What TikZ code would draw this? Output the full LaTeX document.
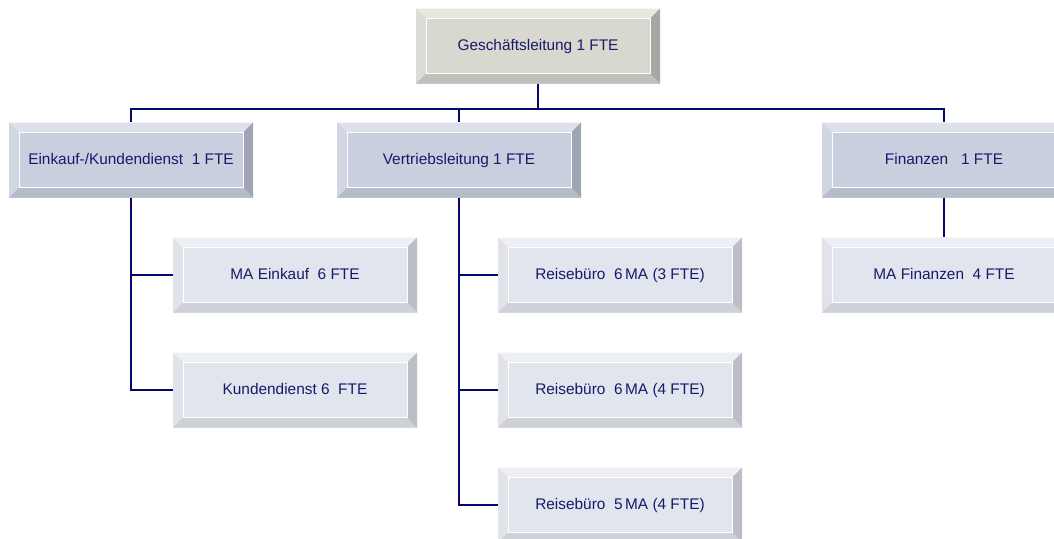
\documentclass[tikz,border=0pt]{standalone}
\usepackage{fontspec}
\setmainfont{Liberation Sans}
\definecolor{linknavy}{RGB}{5,5,110}
\definecolor{textnavy}{RGB}{25,25,105}
% top box
\definecolor{grayface}{RGB}{216,216,208}
\definecolor{graylight}{RGB}{232,232,226}
\definecolor{graydark}{RGB}{168,168,162}
\definecolor{graymid}{RGB}{192,192,186}
% first level
\definecolor{blueface}{RGB}{200,208,224}
\definecolor{bluelight}{RGB}{220,225,236}
\definecolor{bluedark}{RGB}{160,165,180}
\definecolor{bluemid}{RGB}{182,188,202}
% second level
\definecolor{paleface}{RGB}{225,229,238}
\definecolor{palelight}{RGB}{237,239,245}
\definecolor{paledark}{RGB}{188,190,198}
\definecolor{palemid}{RGB}{206,209,216}
\begin{document}
\begin{tikzpicture}[x=1pt, y=-1pt,
  bevel/.style n args={4}{fill=#1, path picture={
    \fill[#2] (path picture bounding box.north west) -- (path picture bounding box.north east)
      -- ([shift={(-10,10)}]path picture bounding box.north east) -- ([shift={(10,10)}]path picture bounding box.north west) -- cycle;
    \fill[#2!95!black] (path picture bounding box.north west) -- ([shift={(10,10)}]path picture bounding box.north west)
      -- ([shift={(10,-10)}]path picture bounding box.south west) -- (path picture bounding box.south west) -- cycle;
    \fill[#3] (path picture bounding box.north east) -- (path picture bounding box.south east)
      -- ([shift={(-10,-10)}]path picture bounding box.south east) -- ([shift={(-10,10)}]path picture bounding box.north east) -- cycle;
    \fill[#4] (path picture bounding box.south west) -- (path picture bounding box.south east)
      -- ([shift={(-10,-10)}]path picture bounding box.south east) -- ([shift={(10,-10)}]path picture bounding box.south west) -- cycle;
    \draw[white, line width=0.8pt] ([shift={(10,10)}]path picture bounding box.north west) rectangle ([shift={(-10,-10)}]path picture bounding box.south east);
  }},
  box/.style={minimum width=244, minimum height=75, inner sep=0pt, text height=11pt, text depth=3pt,
    text=textnavy, font=\fontsize{15.4}{18}\selectfont},
  headbox/.style={box, bevel={grayface}{graylight}{graydark}{graymid}},
  deptbox/.style={box, bevel={blueface}{bluelight}{bluedark}{bluemid}},
  staffbox/.style={box, bevel={paleface}{palelight}{paledark}{palemid}},
  link/.style={draw=linknavy, line width=2pt}]
\useasboundingbox (0,0) rectangle (1054,538);

\node[headbox] (boss) at (538,46) {Geschäftsleitung 1 FTE};
\coordinate (bus) at (538,109);

\node[deptbox] (ein) at (131,160) {Einkauf-/Kundendienst~ 1 FTE};
\node[deptbox] (ver) at (459,160) {Vertriebsleitung 1 FTE};
\node[deptbox] (fin) at (944,160) {Finanzen~~ 1 FTE};

\node[staffbox] (maein) at (295,275) {MA Einkauf~ 6 FTE};
\node[staffbox] (kd) at (295,390) {Kundendienst 6~ FTE};
\node[staffbox] (rb1) at (620,275) {Reisebüro~ 6\,MA (3 FTE)};
\node[staffbox] (rb2) at (620,390) {Reisebüro~ 6\,MA (4 FTE)};
\node[staffbox] (rb3) at (620,505) {Reisebüro~ 5\,MA (4 FTE)};
\node[staffbox] (mafin) at (944,275) {MA Finanzen~ 4 FTE};

\draw[link] (boss) -- (bus);
\draw[link] (bus) -| (ein.north);
\draw[link] (bus) -| (ver.north);
\draw[link] (bus) -| (fin.north);
\draw[link] (ein.south) |- (maein.west);
\draw[link] (ein.south) |- (kd.west);
\draw[link] (ver.south) |- (rb1.west);
\draw[link] (ver.south) |- (rb2.west);
\draw[link] (ver.south) |- (rb3.west);
\draw[link] (fin) -- (mafin);
\end{tikzpicture}
\end{document}
